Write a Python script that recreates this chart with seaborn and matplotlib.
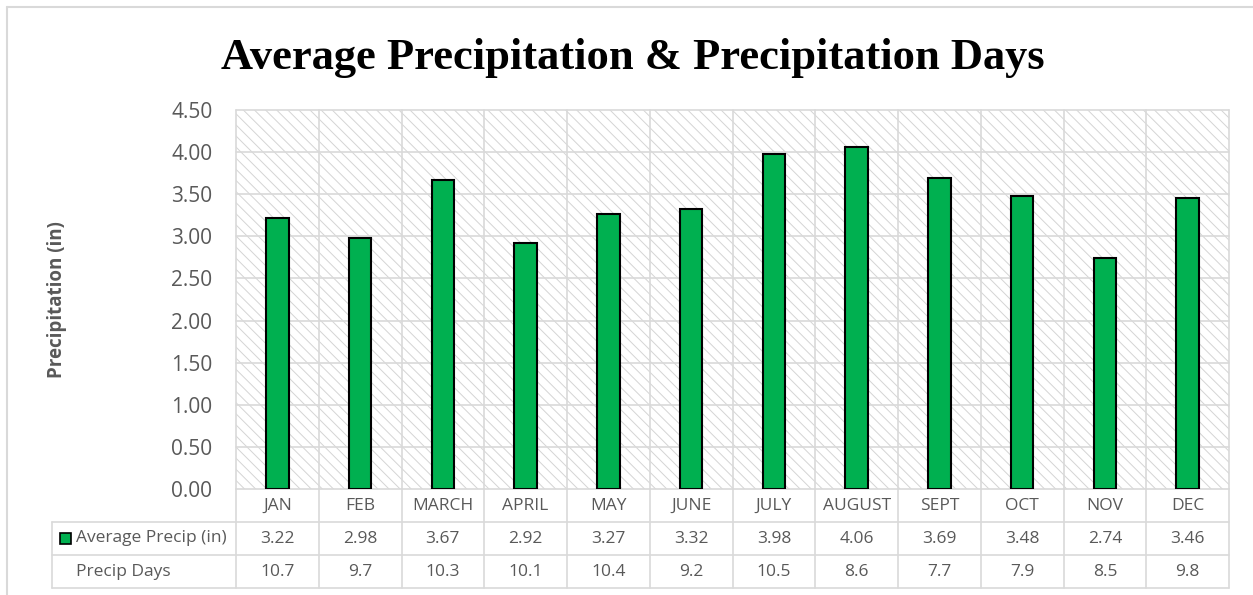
import matplotlib
matplotlib.use("Agg")
import matplotlib.pyplot as plt
import seaborn as sns
import pandas as pd
from matplotlib.patches import Rectangle
from matplotlib.lines import Line2D

# ---- data ----
months = ["JAN", "FEB", "MARCH", "APRIL", "MAY", "JUNE", "JULY", "AUGUST",
          "SEPT", "OCT", "NOV", "DEC"]
avg_precip = [3.22, 2.98, 3.67, 2.92, 3.27, 3.32, 3.98, 4.06, 3.69, 3.48, 2.74, 3.46]
precip_days = [10.7, 9.7, 10.3, 10.1, 10.4, 9.2, 10.5, 8.6, 7.7, 7.9, 8.5, 9.8]
y_ticks = [0.0, 0.5, 1.0, 1.5, 2.0, 2.5, 3.0, 3.5, 4.0, 4.5]
series_names = ["Average Precip (in)", "Precip Days"]
title = "Average Precipitation & Precipitation Days"
y_label = "Precipitation (in)"

# ---- style ----
sns.set_theme(style="white")
plt.rcParams["font.family"] = ["Open Sans", "DejaVu Sans"]
plt.rcParams["hatch.linewidth"] = 0.7

GREEN = "#00b050"
GRID = "#d9d9d9"
TXT = "#595959"
HATCH = "#d4d4d4"

W, H = 1253, 595
fig = plt.figure(figsize=(W / 100, H / 100), dpi=100)
fig.patch.set_facecolor("white")


def fx(px):
    return px / W


def fy(py):
    return 1 - py / H


L, R, T, B = 236, 1229, 110, 489
TL, TB = 52, 588

ax = fig.add_axes([fx(L), fy(B), fx(R) - fx(L), fy(T) - fy(B)])
ax.set_facecolor("white")
ax.add_patch(Rectangle((0, 0), 1, 1, transform=ax.transAxes, facecolor="white",
                       edgecolor=HATCH, hatch="\\\\\\", lw=0, zorder=0.1))

df = pd.DataFrame({"month": months, "precip": avg_precip})
sns.barplot(data=df, x="month", y="precip", color=GREEN, saturation=1,
            width=0.27, edgecolor="black", linewidth=1.5, ax=ax, zorder=3)

ax.set_xlim(-0.5, len(months) - 0.5)
ax.set_ylim(y_ticks[0], y_ticks[-1])
ax.set_yticks(y_ticks)
ax.set_yticklabels([f"{v:.2f}" for v in y_ticks])
ax.set_xticks([])
ax.set_xlabel("")
ax.set_ylabel("")
ax.tick_params(axis="y", length=0, pad=17, labelsize=15, labelcolor=TXT)
for s in ax.spines.values():
    s.set_visible(False)
for v in y_ticks:
    ax.axhline(v, color=GRID, lw=1.2, zorder=1, clip_on=False)
for k in range(len(months) + 1):
    ax.axvline(k - 0.5, color=GRID, lw=1.2, zorder=1, clip_on=False)

# ---- data table ----
unit = (R - L) / len(months)
x_left = -0.5 - (L - TL) / unit
tax = fig.add_axes([fx(TL), fy(TB), fx(R) - fx(TL), fy(B) - fy(TB)])
tax.set_xlim(x_left, len(months) - 0.5)
tax.set_ylim(3, 0)
tax.axis("off")
for r in [1, 2, 3]:
    tax.plot([x_left, len(months) - 0.5], [r, r], color=GRID, lw=1.2, clip_on=False)
for k in range(len(months) + 1):
    tax.plot([k - 0.5, k - 0.5], [0, 3], color=GRID, lw=1.2, clip_on=False)
tax.plot([x_left, x_left], [1, 3], color=GRID, lw=1.2, clip_on=False)

for i, m in enumerate(months):
    tax.text(i, 0.52, m, ha="center", va="center", fontsize=12.5, color=TXT)
    tax.text(i, 1.52, f"{avg_precip[i]:.2f}", ha="center", va="center", fontsize=12.5, color=TXT)
    tax.text(i, 2.52, f"{precip_days[i]:.1f}", ha="center", va="center", fontsize=12.5, color=TXT)

fig.add_artist(Rectangle((fx(60), fy(544)), 11 / W, 11 / H, transform=fig.transFigure,
                         facecolor=GREEN, edgecolor="black", lw=1.2))
fig.text(fx(76), fy(538.5), series_names[0], ha="left", va="center", fontsize=12.5, color=TXT)
fig.text(fx(76), fy(571.5), series_names[1], ha="left", va="center", fontsize=12.5, color=TXT)

# ---- labels ----
fig.text(fx(632.5), fy(58), title, ha="center", va="center",
         family=["Liberation Serif", "DejaVu Serif"], weight="bold", fontsize=32, color="black")
fig.text(fx(57), fy(300), y_label, ha="center", va="center", rotation=90,
         weight="bold", fontsize=13.5, color=TXT)

# ---- outer frame ----
fig.add_artist(Line2D([fx(7), 1], [fy(7), fy(7)], transform=fig.transFigure, color=GRID, lw=1.5))
fig.add_artist(Line2D([fx(7), fx(7)], [fy(7), 0], transform=fig.transFigure, color=GRID, lw=1.5))

fig.savefig("out.png", dpi=100)
